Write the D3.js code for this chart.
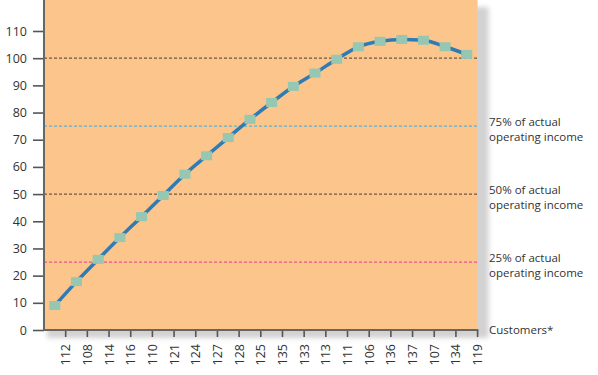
<!DOCTYPE html>
<html>
<head>
<meta charset="utf-8">
<script src="https://cdn.jsdelivr.net/npm/d3@7"></script>
<style>
  body { margin: 0; background: #fff; }
  text { font-family: "Open Sans", sans-serif; fill: #333; }
</style>
</head>
<body>
<div id="my_dataviz"></div>
<script>
// customer codes along the x axis (in order shown)
var customers = ["112","108","114","116","110","121","124","127","128","125",
                 "135","133","113","111","106","136","137","107","134","119"];
// cumulative operating income
var income = [9, 17.8, 26, 34, 41.7, 49.5, 57.3, 64.1, 70.8, 77.5,
              83.7, 89.6, 94.5, 99.6, 104.2, 106.2, 106.9, 106.6, 104.2, 101.4];
var yTicks = [0,10,20,30,40,50,60,70,80,90,100,110];
// reference lines: value, colour, label
var refValues = [100, 75, 50, 25];
var refColors = ["#6e5640", "#5ab4d2", "#6e5640", "#e9558c"];
var refLabels = [null, ["75% of actual","operating income"], ["50% of actual","operating income"], ["25% of actual","operating income"]];

var W = 598, H = 375;
var plotLeft = 44, plotRight = 477.6, plotTop = 0, plotBottom = 330;

var svg = d3.select("#my_dataviz")
    .append("svg")
    .attr("width", W)
    .attr("height", H);

var defs = svg.append("defs");
defs.append("filter").attr("id", "blur")
    .attr("x", "-10%").attr("y", "-10%").attr("width", "120%").attr("height", "120%")
    .append("feGaussianBlur").attr("stdDeviation", 2.5);

var x = d3.scaleBand()
    .domain(customers)
    .range([plotLeft, plotRight])
    .padding(0);

var y = d3.scaleLinear()
    .domain([0, 110])
    .range([plotBottom, 31]);

// drop shadow + plot background
svg.append("rect")
    .attr("x", plotLeft + 3).attr("y", 7)
    .attr("width", plotRight - plotLeft + 8).attr("height", plotBottom - 7 + 8)
    .attr("fill", "#d2d2d2")
    .attr("filter", "url(#blur)");
svg.append("rect")
    .attr("x", plotLeft).attr("y", plotTop)
    .attr("width", plotRight - plotLeft).attr("height", plotBottom - plotTop)
    .attr("fill", "#fcc58c");

// dashed reference lines
svg.selectAll(".ref")
    .data(refValues)
    .enter()
    .append("line")
    .attr("class", "ref")
    .attr("x1", plotLeft).attr("x2", plotRight)
    .attr("y1", function(d) { return y(d); })
    .attr("y2", function(d) { return y(d); })
    .attr("stroke", function(d, i) { return refColors[i]; })
    .attr("stroke-width", 1.3)
    .attr("stroke-dasharray", "3,2");

// labels on the right
refValues.forEach(function(v, i) {
    if (!refLabels[i]) return;
    svg.append("text")
        .attr("x", 489).attr("y", y(v) - 0.5)
        .style("font-size", "11.5px")
        .text(refLabels[i][0]);
    svg.append("text")
        .attr("x", 489).attr("y", y(v) + 15)
        .style("font-size", "11.5px")
        .text(refLabels[i][1]);
});
svg.append("text")
    .attr("x", 489).attr("y", y(0) + 4)
    .style("font-size", "11.5px")
    .text("Customers*");

// Y axis
var yAxis = svg.append("g")
    .attr("transform", "translate(" + plotLeft + ",0)")
    .call(d3.axisLeft(y).tickValues(yTicks).tickSize(11).tickPadding(6));
yAxis.select(".domain").remove();
yAxis.selectAll(".tick line").attr("stroke", "#555").attr("stroke-width", 1.6);
yAxis.selectAll("text").style("font-size", "12.5px").attr("fill", "#333");
svg.append("line")
    .attr("x1", plotLeft).attr("x2", plotLeft)
    .attr("y1", 0).attr("y2", plotBottom + 1)
    .attr("stroke", "#666").attr("stroke-width", 2);

// X axis - ticks sit at the right edge of each band
var xAxis = svg.append("g")
    .attr("transform", "translate(0," + plotBottom + ")")
    .call(d3.axisBottom(x).tickSize(7).tickPadding(0));
xAxis.select(".domain").remove();
xAxis.selectAll(".tick")
    .attr("transform", function(d) { return "translate(" + (x(d) + x.bandwidth()) + ",0)"; });
xAxis.selectAll(".tick line").attr("stroke", "#555").attr("stroke-width", 1.6);
xAxis.selectAll(".tick text")
    .attr("transform", "rotate(-90)")
    .attr("x", -14)
    .attr("y", 0)
    .attr("dy", "0.36em")
    .style("text-anchor", "end")
    .style("font-size", "12.5px")
    .attr("fill", "#333");
svg.append("line")
    .attr("x1", plotLeft).attr("x2", plotRight + 0.8)
    .attr("y1", plotBottom).attr("y2", plotBottom)
    .attr("stroke", "#666").attr("stroke-width", 2);

// income curve
var line = d3.line()
    .x(function(d, i) { return x(customers[i]) + x.bandwidth() / 2; })
    .y(function(d) { return y(d); })
    .curve(d3.curveMonotoneX);
svg.append("path")
    .datum(income)
    .attr("d", line)
    .attr("fill", "none")
    .attr("stroke", "#2f7bb4")
    .attr("stroke-width", 3.5);

// square markers
svg.selectAll("myRect")
    .data(income)
    .enter()
    .append("rect")
    .attr("x", function(d, i) { return x(customers[i]) + x.bandwidth() / 2 - 5.5; })
    .attr("y", function(d) { return y(d) - 4.5; })
    .attr("width", 11)
    .attr("height", 9)
    .attr("fill", "#95c7b3");
</script>
</body>
</html>
